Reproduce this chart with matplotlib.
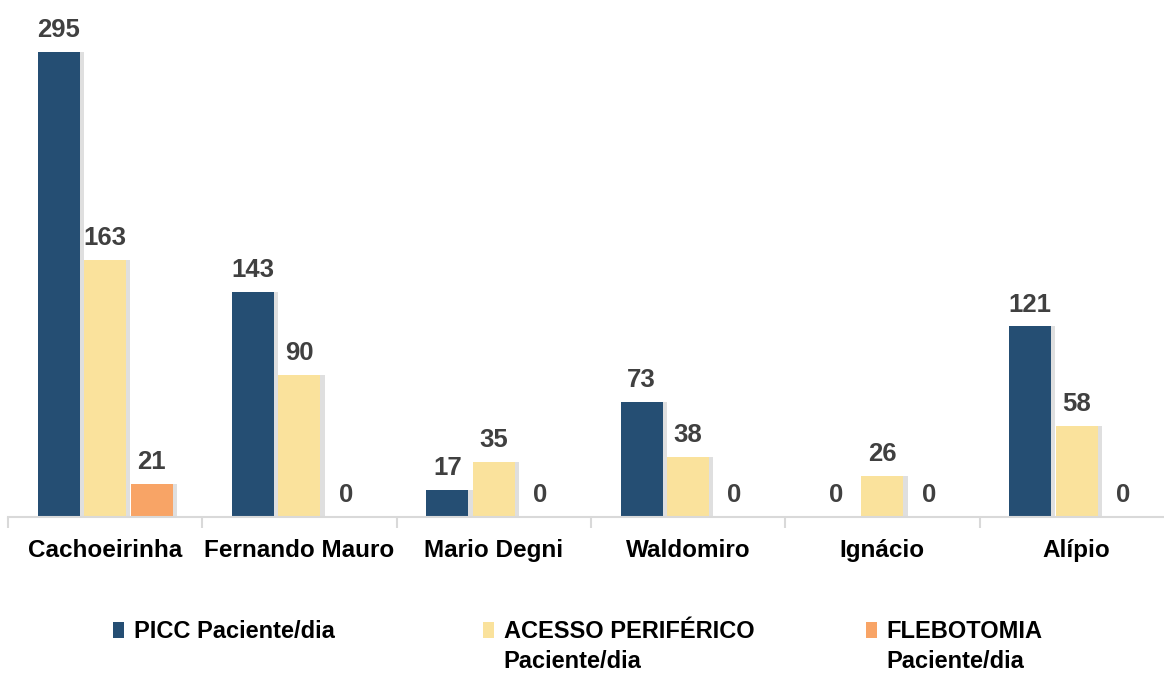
import matplotlib
matplotlib.use("Agg")
import matplotlib.pyplot as plt
import numpy as np

categories = ["Cachoeirinha", "Fernando Mauro", "Mario Degni", "Waldomiro", "Ignácio", "Alípio"]
picc = [295, 143, 17, 73, 0, 121]
acesso = [163, 90, 35, 38, 26, 58]
flebotomia = [21, 0, 0, 0, 0, 0]
series_names = ["PICC Paciente/dia", "ACESSO PERIFÉRICO\nPaciente/dia", "FLEBOTOMIA\nPaciente/dia"]
colors = ["#254E73", "#FAE29C", "#F8A466"]

plt.rcParams["font.family"] = ["Liberation Sans", "DejaVu Sans"]
plt.rcParams["font.weight"] = "bold"

W, H = 1164, 674
fig = plt.figure(figsize=(W / 100, H / 100), dpi=100)
ax = fig.add_axes([8 / W, 157 / H, 6 * 194.3 / W, 517 / H])

x = np.arange(len(categories))
offsets = [-0.239, 0.0, 0.239]
width = 0.216
containers = []
for vals, off, col in zip([picc, acesso, flebotomia], offsets, colors):
    # soft shadow to the right of each bar
    ax.bar(x + off + 0.022, vals, width, color="#808080", alpha=0.25, linewidth=0, zorder=1)
    bars = ax.bar(x + off, vals, width, color=col, linewidth=0, zorder=2)
    ax.bar_label(bars, padding=7, fontsize=18.5, color="#404040", fontweight="bold")
    containers.append(bars)

ax.set_xlim(-0.5, len(categories) - 0.5)
ax.set_ylim(0, 328)
for s in ["top", "right", "left"]:
    ax.spines[s].set_visible(False)
ax.spines["bottom"].set_color("#D9D9D9")
ax.spines["bottom"].set_linewidth(1.5)
ax.set_yticks([])
ax.set_xticks(x)
ax.set_xticklabels(categories, fontsize=17.5, fontweight="bold")
ax.set_xticks(np.arange(-0.5, len(categories), 1), minor=True)
ax.tick_params(axis="x", which="major", length=0, pad=16)
ax.tick_params(axis="x", which="minor", length=8, width=1.5, color="#D9D9D9")

# legend, one entry per column, second line written under the first
legend_x = [113, 483, 866]
fig.canvas.draw()
for bars, name, lx in zip(containers, series_names, legend_x):
    lines = name.split("\n")
    leg = fig.legend([bars], [lines[0]], loc="center left",
                     bbox_to_anchor=(lx / W, 1 - 632 / H), frameon=False,
                     borderpad=0, borderaxespad=0, handlelength=0.45,
                     handleheight=0.65, handletextpad=0.42,
                     prop={"size": 17, "weight": "bold"})
    if len(lines) > 1:
        fig.canvas.draw()
        bb = leg.get_texts()[0].get_window_extent()
        yc = (bb.y0 + bb.y1) / 2 - 30
        fig.text(bb.x0 / W, yc / H, lines[1], fontsize=17, fontweight="bold",
                 ha="left", va="center")

fig.savefig("out.png", dpi=100)
